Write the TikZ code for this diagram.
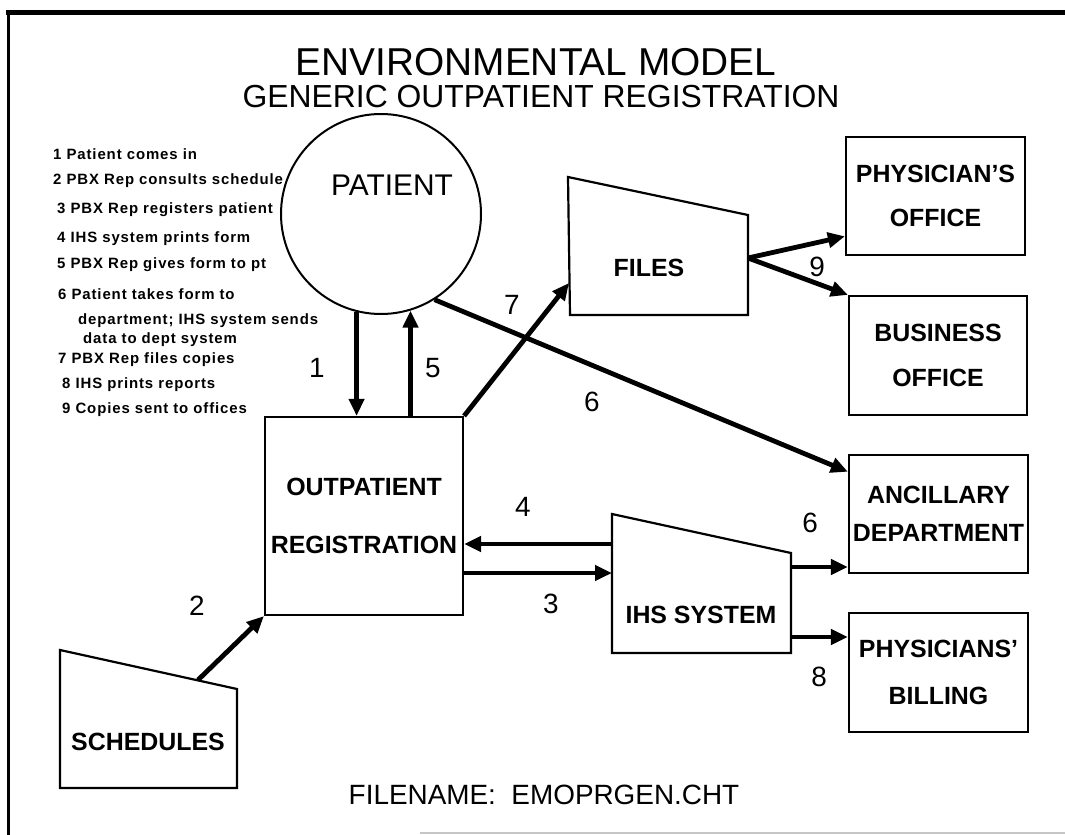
\documentclass[tikz,border=0pt]{standalone}
\usepackage{fontspec}
\setmainfont{Liberation Sans}
\usetikzlibrary{arrows.meta,calc}

\tikzset{
  box/.style={draw, line width=2.2bp, inner sep=0pt, align=center},
  outline/.style={draw, line width=2.2bp, line join=miter},
  lbl/.style={inner sep=0pt, font=\fontsize{25}{25}\selectfont\bfseries},
  flow/.style={line width=4.8bp, -{Triangle[length=17bp,width=15bp]}},
  num/.style={inner sep=0pt, font=\fontsize{28}{28}\selectfont},
  legend/.style={inner sep=0pt, anchor=base west,
    font=\fontsize{15}{15}\selectfont\bfseries\addfontfeature{LetterSpace=6}},
}

\begin{document}
\begin{tikzpicture}[x=1bp, y=-1bp]
\useasboundingbox (0,0) rectangle (1065,835);
\fill[white] (0,0) rectangle (1065,835);

% sheet frame
\draw[line width=5bp] (6,12) -- (1065,12);
\draw[line width=3bp] (8,12) -- (8,835);
\draw[gray!45, line width=1.5bp] (420,833) -- (1065,833);

% titles
\node[inner sep=0pt, font=\fontsize{39}{39}\selectfont] (title) at (536,62) {ENVIRONMENTAL MODEL};
\node[inner sep=0pt, font=\fontsize{32}{32}\selectfont] (subtitle) at (541,97) {GENERIC OUTPATIENT REGISTRATION};
\node[inner sep=0pt, font=\fontsize{28}{28}\selectfont] (fname) at (544,795) {FILENAME:\ \ EMOPRGEN.CHT};

% step list
\node[legend] (l1) at (53,159) {1 Patient comes in};
\node[legend] (l2) at (53,184) {2 PBX Rep consults schedule};
\node[legend] (l3) at (57,213) {3 PBX Rep registers patient};
\node[legend] (l4) at (57,242) {4 IHS system prints form};
\node[legend] (l5) at (57,268) {5 PBX Rep gives form to pt};
\node[legend] (l6) at (58,299) {6 Patient takes form to};
\node[legend] (l6b) at (78,324) {department; IHS system sends};
\node[legend] (l6c) at (83,343) {data to dept system};
\node[legend] (l7) at (58,363) {7 PBX Rep files copies};
\node[legend] (l8) at (62,388) {8 IHS prints reports};
\node[legend] (l9) at (62,413) {9 Copies sent to offices};

% patient
\node[draw, circle, line width=2bp, minimum size=200bp, inner sep=0pt] (pat) at (381,214) {};
\node[inner sep=0pt, font=\fontsize{30}{30}\selectfont] (patlbl) at (392,185) {PATIENT};

% rectangular entities
\node[box, minimum width=198bp, minimum height=198bp, font=\fontsize{25}{59}\selectfont\bfseries] (opr) at (364,516) {OUTPATIENT\\REGISTRATION};
\node[box, minimum width=179bp, minimum height=118bp, font=\fontsize{25}{44}\selectfont\bfseries] (phys) at (935.5,196) {PHYSICIAN'S\\OFFICE};
\node[box, minimum width=178bp, minimum height=119bp, font=\fontsize{25}{45}\selectfont\bfseries] (bus) at (938,355.5) {BUSINESS\\OFFICE};
\node[box, minimum width=179bp, minimum height=118bp, font=\fontsize{25}{38}\selectfont\bfseries] (anc) at (938.5,514) {ANCILLARY\\DEPARTMENT};
\node[box, minimum width=179bp, minimum height=119bp, font=\fontsize{25}{47}\selectfont\bfseries] (bill) at (938.5,672.5) {PHYSICIANS'\\BILLING};

% files
\draw[outline] (568,177) -- (748,215) -- (748,315) -- (570,315) -- cycle;
\node[lbl] (fileslbl) at (649,268) {FILES};
\coordinate (filesin) at (569,283);
\coordinate (filesout) at (748,258);

% IHS system
\draw[outline] (612,514) -- (791,553) -- (791,653) -- (612,653) -- cycle;
\node[lbl] (ihslbl) at (701,615) {IHS SYSTEM};
\coordinate (ihs4) at (612,544);
\coordinate (ihs3) at (612,573);
\coordinate (ihs6) at (791,567);
\coordinate (ihs8) at (791,637);

% schedules
\draw[outline] (60,650) -- (237,689) -- (237,788) -- (60,788) -- cycle;
\node[lbl] (schlbl) at (148,742) {SCHEDULES};
\coordinate (schout) at (198,680);

% flows
\draw[flow] (pat.-104.5) -- (pat.-104.5 |- opr.north);
\draw[flow] (opr.north -| pat.-73.1) -- (pat.-73.1);
\draw[flow] (opr.north east) -- (filesin);
\draw[flow] (pat.-58) -- (anc.155);
\draw[flow] (filesout) -- (phys.204.6);
\draw[flow] (filesout) -- (bus.north west);
\draw[flow] (ihs4) -- (ihs4 -| opr.east);
\draw[flow] (ihs3 -| opr.east) -- (ihs3);
\draw[flow] (ihs6) -- (ihs6 -| anc.west);
\draw[flow] (ihs8) -- (ihs8 -| bill.west);
\draw[flow] (schout) -- (opr.south west);

% flow numbers
\node[num] (n1) at (317,368) {1};
\node[num] (n5) at (433,368) {5};
\node[num] (n7) at (512,305) {7};
\node[num] (n6a) at (592,402) {6};
\node[num] (n9) at (817,267) {9};
\node[num] (n4) at (523,507) {4};
\node[num] (n3) at (551,604) {3};
\node[num] (n6b) at (810,523) {6};
\node[num] (n8) at (819,677) {8};
\node[num] (n2) at (197,606) {2};
\end{tikzpicture}
\end{document}
